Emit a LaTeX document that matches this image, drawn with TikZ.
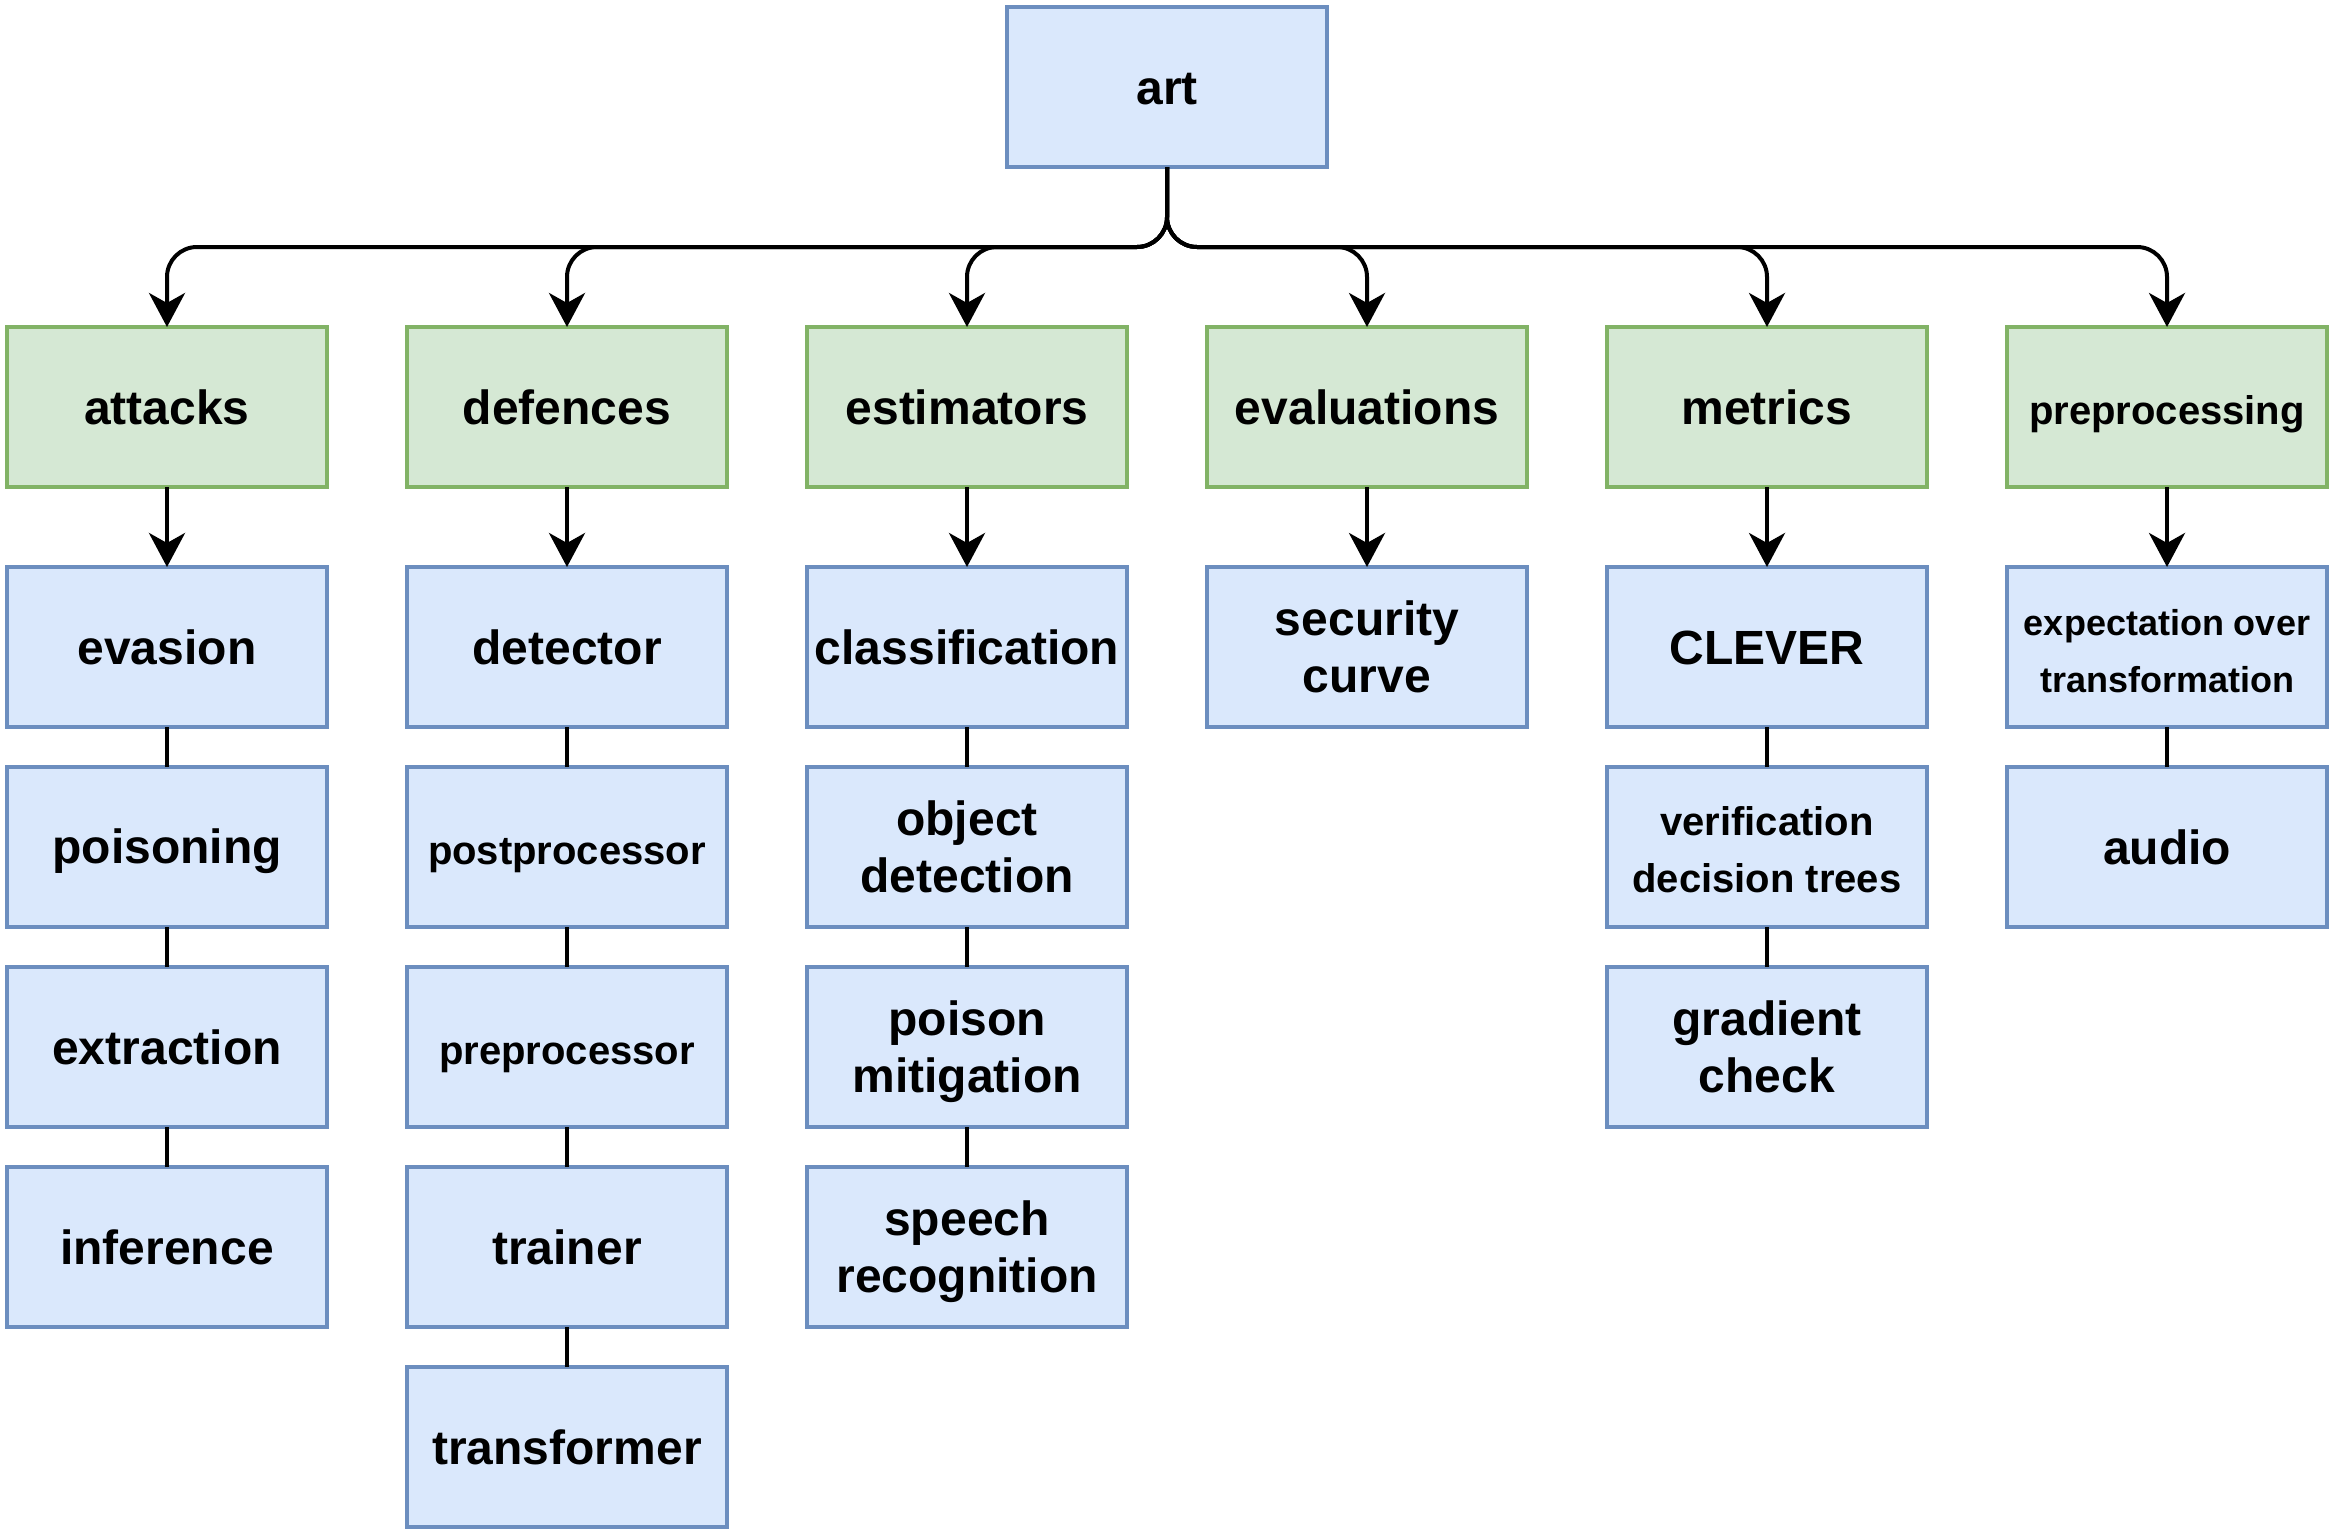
\documentclass[tikz,border=0pt]{standalone}
\usepackage{fontspec}
\setmainfont{Liberation Sans}
\usepackage{tikz}
\usetikzlibrary{arrows.meta, positioning}

\definecolor{bluefill}{HTML}{DAE8FC}
\definecolor{blueline}{HTML}{6C8EBF}
\definecolor{greenfill}{HTML}{D5E8D4}
\definecolor{greenline}{HTML}{82B366}
% line box as in the drawing tool
\newcommand{\lbox}{\rule[-10pt]{0pt}{54pt}}

\begin{document}
\begin{tikzpicture}[x=1pt, y=1pt, node distance={40pt and 80pt},
		box/.style = {draw, line width=4pt, outer sep=0pt, minimum width=320pt, minimum height=160pt, inner sep=0pt, align=center, font=\bfseries\fontsize{48}{57}\selectfont, execute at begin node=\lbox},
		main/.style = {box, fill=bluefill, draw=blueline},
		cat/.style = {box, fill=greenfill, draw=greenline},
		mid/.style = {font=\bfseries\fontsize{40}{57}\selectfont},
		tiny/.style = {font=\bfseries\fontsize{36}{57}\selectfont},
		arr/.style = {line width=4pt, -{Stealth[length=34pt, width=36pt, inset=10pt]}},
		link/.style = {line width=4pt}]
		\useasboundingbox (0,0) rectangle (2334,-1534);
		% root
		\node[main] (art) at (1167,-87) {art};
		% modules
		\node[cat] (attacks) at (167,-407) {attacks};
		\node[cat] (defences) [right=of attacks] {defences};
		\node[cat] (estimators) [right=of defences] {estimators};
		\node[cat] (evaluations) [right=of estimators] {evaluations};
		\node[cat] (metrics) [right=of evaluations] {metrics};
		\node[cat, mid] (preprocessing) [right=of metrics] {preprocessing};
		% attacks
		\node[main] (evasion) [below=80pt of attacks] {evasion};
		\node[main] (poisoning) [below=of evasion] {poisoning};
		\node[main] (extraction) [below=of poisoning] {extraction};
		\node[main] (inference) [below=of extraction] {inference};
		% defences
		\node[main] (detector) [below=80pt of defences] {detector};
		\node[main, mid] (postprocessor) [below=of detector] {postprocessor};
		\node[main, mid] (preprocessor) [below=of postprocessor] {preprocessor};
		\node[main] (trainer) [below=of preprocessor] {trainer};
		\node[main] (transformer) [below=of trainer] {transformer};
		% estimators
		\node[main] (classification) [below=80pt of estimators] {classification};
		\node[main] (objdet) [below=of classification] {\lbox object\\\lbox detection};
		\node[main] (poisonmit) [below=of objdet] {\lbox poison\\\lbox mitigation};
		\node[main] (speech) [below=of poisonmit] {\lbox speech\\\lbox recognition};
		% evaluations
		\node[main] (security) [below=80pt of evaluations] {\lbox security\\\lbox curve};
		% metrics
		\node[main] (clever) [below=80pt of metrics] {CLEVER};
		\node[main, mid] (verification) [below=of clever] {\lbox verification\\\lbox decision trees};
		\node[main] (gradient) [below=of verification] {\lbox gradient\\\lbox check};
		% preprocessing
		\node[main, tiny] (eot) [below=80pt of preprocessing] {\lbox expectation over\\\lbox transformation};
		\node[main] (audio) [below=of eot] {audio};

		\draw[arr, rounded corners=30pt] (art.south) -- ++(0,-80) -| (attacks.north);
		\draw[arr, rounded corners=30pt] (art.south) -- ++(0,-80) -| (defences.north);
		\draw[arr, rounded corners=30pt] (art.south) -- ++(0,-80) -| (estimators.north);
		\draw[arr, rounded corners=30pt] (art.south) -- ++(0,-80) -| (evaluations.north);
		\draw[arr, rounded corners=30pt] (art.south) -- ++(0,-80) -| (metrics.north);
		\draw[arr, rounded corners=30pt] (art.south) -- ++(0,-80) -| (preprocessing.north);

		\draw[arr] (attacks) -- (evasion);
		\draw[arr] (defences) -- (detector);
		\draw[arr] (estimators) -- (classification);
		\draw[arr] (evaluations) -- (security);
		\draw[arr] (metrics) -- (clever);
		\draw[arr] (preprocessing) -- (eot);

		\draw[link] (evasion) -- (poisoning);
		\draw[link] (poisoning) -- (extraction);
		\draw[link] (extraction) -- (inference);
		\draw[link] (detector) -- (postprocessor);
		\draw[link] (postprocessor) -- (preprocessor);
		\draw[link] (preprocessor) -- (trainer);
		\draw[link] (trainer) -- (transformer);
		\draw[link] (classification) -- (objdet);
		\draw[link] (objdet) -- (poisonmit);
		\draw[link] (poisonmit) -- (speech);
		\draw[link] (clever) -- (verification);
		\draw[link] (verification) -- (gradient);
		\draw[link] (eot) -- (audio);
	\end{tikzpicture}
\end{document}
